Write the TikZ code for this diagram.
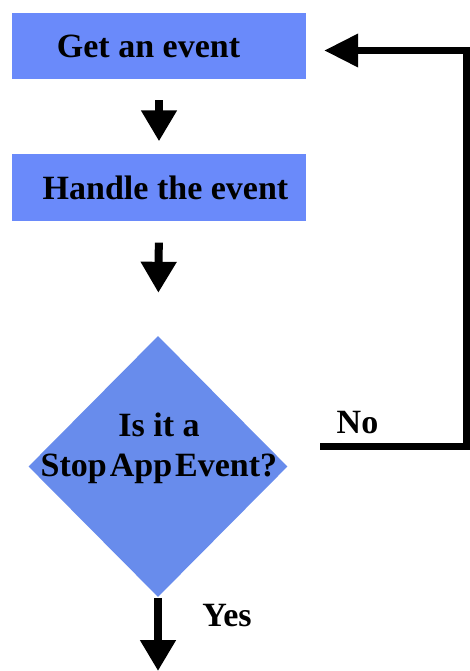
\documentclass[tikz,border=0pt]{standalone}
\usepackage{fontspec}
\setmainfont{Liberation Serif}
\usetikzlibrary{shapes.geometric,arrows.meta}
\definecolor{boxblue}{RGB}{106,138,250}
\definecolor{diablue}{RGB}{104,140,236}
\begin{document}
\begin{tikzpicture}[x=1pt,y=-1pt,
  procbox/.style={rectangle, fill=boxblue, minimum width=294pt, minimum height=66pt, inner sep=0pt, font=\fontsize{34}{40}\selectfont\bfseries},
  decision/.style={diamond, fill=diablue, minimum width=259pt, minimum height=261pt, inner sep=0pt},
  lbl/.style={font=\fontsize{34}{40}\selectfont\bfseries, inner sep=0pt, align=center},
  flow/.style={line width=8pt, -{Triangle[length=31pt,width=34pt]}},
  loopline/.style={line width=7pt, miter limit=10, -{Triangle[length=34pt,width=32pt]}},
]
\useasboundingbox (0,0) rectangle (470,671);
\node[procbox] (get) at (159,46) {Get an event\kern21pt};
\node[procbox] (handle) at (159,187.5) {\kern13pt Handle the event};
\node[decision] (stop) at (158,466.5) {};
\node[lbl] (q) at (159,448) {Is it a\\Stop\kern3pt App\kern3pt Event?};
\node[lbl] (no) at (357.5,423) {No};
\node[lbl] (yes) at (227,616) {Yes};
\coordinate (nostart) at (320,446);
\coordinate (corner) at (466.5,50.5);
\coordinate (exit) at (158,671);
\draw[flow, shorten <=21pt, shorten >=13pt] (get) -- (handle);
\draw[flow, shorten <=22pt, shorten >=43pt] (handle.south) -- (stop.north);
\draw[flow, shorten <=1pt] (stop.south) -- (exit);
\draw[loopline, shorten >=18pt] (nostart) -| (corner) -- ([yshift=-4.5pt]get.east);
\end{tikzpicture}
\end{document}
